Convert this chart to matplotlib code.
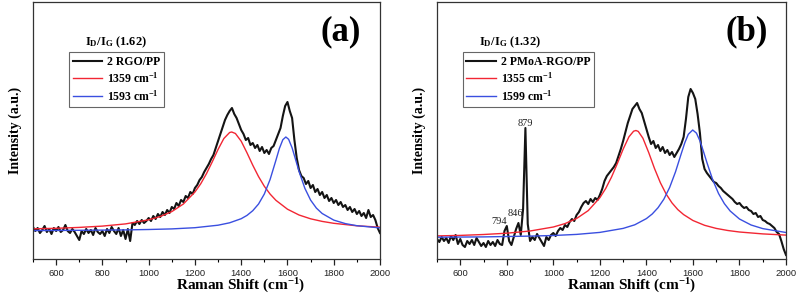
import numpy as np
import matplotlib
matplotlib.use('Agg')
import matplotlib.pyplot as plt
from matplotlib.ticker import MultipleLocator

# ---- panel (a): 2 RGO/PP ----
shift_a = np.arange(500, 2001, 10)
spec_a = [31, 27, 30, 25, 28, 32, 26, 29, 24, 30, 27, 31, 26, 28, 33, 27, 25, 29, 26, 22,
          18, 27, 24, 29, 25, 28, 23, 30, 26, 24, 27, 22, 29, 25, 31, 27, 24, 30, 22, 28,
          19, 29, 17, 35, 33, 37, 34, 38, 35, 37, 40, 37, 42, 39, 44, 41, 46, 43, 48, 45,
          51, 49, 55, 52, 58, 56, 62, 60, 66, 64, 70, 73, 78, 81, 86, 90, 94, 99, 103, 110,
          117, 124, 131, 138, 143, 147, 150, 144, 140, 134, 128, 124, 118, 120, 113, 115, 110, 113, 107, 111,
          105, 108, 104, 110, 112, 118, 124, 130, 142, 152, 156, 147, 140, 118, 100, 88, 82, 80, 74, 77,
          70, 73, 66, 69, 63, 66, 60, 63, 57, 60, 55, 58, 53, 56, 51, 53, 48, 51, 46, 49,
          44, 47, 42, 45, 40, 48, 41, 43, 38, 30, 25]
d_shift_a = [500, 600, 700, 800, 900, 1000, 1050, 1100, 1150, 1200, 1225, 1250, 1275, 1300, 1325,
             1350, 1359, 1375, 1400, 1425, 1450, 1475, 1500, 1525, 1550, 1600, 1650, 1700, 1750,
             1800, 1900, 2000]
d_fit_a = [29.2, 29.7, 30.6, 31.9, 34.1, 38.2, 41.5, 46.4, 54, 66, 74.2, 84.4, 96.2, 108.6, 119.5,
           125.5, 126, 124.5, 116.8, 105.2, 92.8, 81.4, 71.7, 63.9, 57.7, 48.8, 43, 39.2, 36.6,
           34.7, 32.2, 30.8]
g_shift_a = [500, 700, 900, 1000, 1100, 1200, 1300, 1350, 1400, 1425, 1450, 1475, 1500, 1525, 1550,
             1565, 1580, 1593, 1605, 1620, 1635, 1650, 1675, 1700, 1725, 1750, 1800, 1850, 1900, 2000]
g_fit_a = [27.4, 27.7, 28.1, 28.5, 29.1, 30.3, 32.8, 35.2, 39.3, 42.6, 47.3, 54, 64, 78.6, 97.7,
           109.5, 118.3, 121, 118.7, 110.2, 98.5, 86.6, 69.8, 57.9, 49.9, 44.5, 37.9, 34.4, 32.3, 30.1]
labels_a = ['2 RGO/PP', r'1359 cm$^{\mathbf{-1}}$', r'1593 cm$^{\mathbf{-1}}$']
ratio_a = '1.62'

# ---- panel (b): 2 PMoA-RGO/PP ----
shift_b = np.arange(500, 2001, 10)
spec_b = [20, 17, 22, 18, 21, 16, 23, 19, 24, 15, 20, 14, 12, 18, 15, 19, 14, 21, 17, 13,
          16, 12, 18, 14, 17, 13, 19, 15, 14, 28, 33, 18, 14, 22, 30, 36, 24, 50, 131, 35,
          18, 22, 19, 25, 21, 17, 13, 22, 19, 24, 26, 23, 28, 31, 29, 34, 32, 37, 40, 38,
          44, 47, 52, 56, 58, 55, 60, 57, 61, 59, 64, 70, 78, 83, 86, 89, 92, 96, 103, 110,
          118, 127, 136, 143, 150, 153, 156, 150, 146, 138, 130, 122, 115, 118, 111, 114, 108, 112, 106, 109,
          104, 107, 102, 106, 110, 115, 122, 140, 162, 170, 166, 160, 145, 126, 100, 90, 86, 83, 80, 77,
          76, 73, 71, 68, 66, 64, 62, 60, 57, 55, 56, 53, 51, 52, 49, 48, 45, 46, 42, 43,
          39, 38, 36, 35, 33, 31, 27, 25, 18, 10, 4]
d_shift_b = [500, 600, 700, 800, 900, 1000, 1050, 1100, 1150, 1200, 1225, 1250, 1275, 1300, 1325,
             1345, 1355, 1365, 1385, 1410, 1435, 1460, 1485, 1510, 1535, 1560, 1600, 1650, 1700,
             1750, 1800, 1900, 2000]
d_fit_b = [23.1, 23.6, 24.5, 25.8, 28, 32, 35.4, 40.5, 48.4, 61.3, 70.5, 81.9, 95.4, 109.8, 122.2,
           127.8, 128.5, 127.6, 120.8, 106.4, 90.4, 76.3, 64.9, 56.1, 49.4, 44.4, 38.5, 33.7, 30.6,
           28.5, 27, 25.1, 23.9]
g_shift_b = [500, 700, 900, 1000, 1100, 1200, 1300, 1350, 1400, 1425, 1450, 1475, 1500, 1525, 1550,
             1565, 1580, 1599, 1615, 1630, 1645, 1660, 1685, 1710, 1735, 1760, 1800, 1850, 1900, 2000]
g_fit_b = [21.8, 22.1, 22.9, 23.5, 24.6, 26.6, 30.6, 34.2, 40.4, 45, 51.3, 59.8, 71.6, 87.1, 105.5,
           116.2, 124.7, 129, 125.9, 118.2, 107.7, 96.5, 79.2, 65.5, 55.4, 48, 40, 34, 30.4, 26.5]
labels_b = ['2 PMoA-RGO/PP', r'1355 cm$^{\mathbf{-1}}$', r'1599 cm$^{\mathbf{-1}}$']
ratio_b = '1.32'
peak_labels_b = ['794', '846', '879']
peak_txt_x_b = [768, 838, 881]
peak_txt_y_b = [38, 45, 136]

SERIF = 'Liberation Serif'
plt.rcParams['font.family'] = SERIF
plt.rcParams['mathtext.fontset'] = 'custom'
plt.rcParams['mathtext.rm'] = SERIF
plt.rcParams['mathtext.bf'] = SERIF + ':bold'
plt.rcParams['mathtext.it'] = SERIF + ':italic'


def draw_panel(ax, shift, spec, d_shift, d_fit, g_shift, g_fit, labels, ratio, tag,
               legend_x, xlabel_x, ylo):
    ''' Draw one Raman panel: spectrum, two fitted bands, legend and tag '''
    l1, = ax.plot(shift, spec, color='#141414', lw=1.5)
    l2, = ax.plot(d_shift, d_fit, color='#f22633', lw=1.0)
    l3, = ax.plot(g_shift, g_fit, color='#3a4fe0', lw=1.0)
    ax.set_xlim(500, 2000)
    ax.set_ylim(ylo, ylo + 257)
    ax.set_yticks([])
    ax.xaxis.set_major_locator(MultipleLocator(200))
    ax.xaxis.set_minor_locator(MultipleLocator(100))
    ax.tick_params(axis='x', which='major', direction='out', length=4, width=0.9,
                   pad=3, labelsize=6.8, colors='#222222')
    ax.tick_params(axis='x', which='minor', direction='out', length=2.5, width=0.8)
    for lab in ax.get_xticklabels():
        lab.set_fontfamily('Liberation Sans')
    for sp in ax.spines.values():
        sp.set_color('#333333')
        sp.set_linewidth(0.9)
    ax.set_xlabel(r'Raman Shift (cm$^{\mathbf{-1}}$)', fontsize=11, fontweight='bold')
    ax.xaxis.set_label_coords(xlabel_x, -0.068)
    ax.set_ylabel('Intensity (a.u.)', fontsize=10, fontweight='bold', labelpad=8)
    leg = ax.legend([l1, l2, l3], labels, loc='upper left', bbox_to_anchor=(legend_x, 0.805),
                    borderaxespad=0, fancybox=False, framealpha=1, edgecolor='#666666',
                    handlelength=2.5, handletextpad=0.4, labelspacing=0.28, borderpad=0.3,
                    prop={'family': SERIF, 'weight': 'bold', 'size': 8.5})
    leg.get_frame().set_linewidth(0.8)
    ax.text(legend_x + 0.135, 0.845, r'$\mathbf{I_D/I_G}$ (' + ratio + ')', transform=ax.transAxes,
            ha='center', va='center', fontsize=9, fontweight='bold')
    ax.text(0.886, 0.885, tag, transform=ax.transAxes, ha='center', va='center',
            fontsize=25, fontweight='bold')


def main():
    fig = plt.figure(figsize=(7.99, 3.03), dpi=100)
    ax_a = fig.add_axes([33 / 799, 44 / 303, 347 / 799, 257 / 303])
    ax_b = fig.add_axes([437 / 799, 44 / 303, 349 / 799, 257 / 303])
    draw_panel(ax_a, shift_a, spec_a, d_shift_a, d_fit_a, g_shift_a, g_fit_a,
               labels_a, ratio_a, '(a)', 0.105, 0.597, -1)
    draw_panel(ax_b, shift_b, spec_b, d_shift_b, d_fit_b, g_shift_b, g_fit_b,
               labels_b, ratio_b, '(b)', 0.074, 0.559, 0)
    for txt, tx, ty in zip(peak_labels_b, peak_txt_x_b, peak_txt_y_b):
        ax_b.text(tx, ty, txt, ha='center', va='center', fontsize=7.5, color='#222222')
    fig.savefig('out.png', dpi=100)


if __name__ == '__main__':
    main()
